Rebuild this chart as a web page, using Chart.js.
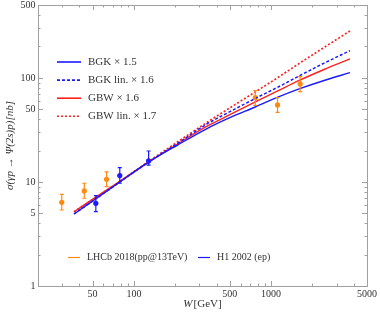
<!DOCTYPE html>
<html>
<head>
<meta charset="utf-8">
<script src="https://cdn.jsdelivr.net/npm/chart.js@4.4.1/dist/chart.umd.min.js"></script>
<style>
  html, body { margin: 0; padding: 0; background: #fff; }
  #wrap { width: 380px; height: 319px; }
</style>
</head>
<body>
<div id="wrap"><canvas id="chart" width="380" height="319"></canvas></div>
<script>
// model curves (W in GeV, sigma in nb)
const wCurve = [36.6, 68.5, 128, 208, 336, 505, 767, 1108, 1601, 2432, 3757];
const bgk = [4.92, 8.74, 15.5, 22.6, 32.2, 41.6, 52.4, 64.7, 78.1, 94.2, 111.9];
const bgkLin = [4.92, 8.74, 15.5, 23.4, 35.6, 47.5, 63.3, 80.7, 104.1, 138.1, 182.1];
const gbw = [5.17, 8.97, 15.5, 23.1, 33.9, 44.4, 58.6, 74.3, 94.2, 120.1, 151.6];
const gbwLin = [5.17, 8.88, 15.7, 24.2, 36.8, 51.8, 73.1, 99.6, 137.2, 195.5, 281.6];

// LHCb 2018 data
const wLHCb = [29.8, 43.5, 63.2, 767, 1114, 1628];
const sigLHCb = [6.37, 8.18, 10.6, 64.4, 54.8, 87.2];
const loLHCb = [5.37, 6.96, 9.0, 54.4, 46.6, 73.5];
const hiLHCb = [7.6, 9.7, 12.5, 75.2, 64.4, 102.5];

// H1 2002 data
const wH1 = [52.8, 78.9, 128];
const sigH1 = [6.23, 11.5, 15.9];
const loH1 = [5.17, 9.7, 14.5];
const hiH1 = [7.37, 13.7, 19.8];

// ticks
const xLabels = [50, 100, 500, 1000, 5000];
const yLabels = [1, 5, 10, 50, 100, 500];
const xMinor = [20, 30, 40, 60, 70, 80, 90, 200, 300, 400, 600, 700, 800, 900, 2000, 3000, 4000];
const yMinor = [2, 3, 4, 6, 7, 8, 9, 20, 30, 40, 60, 70, 80, 90, 200, 300, 400];

const BLUE = '#1a1aff';
const RED = '#ff2020';
const ORANGE = '#ff8a10';
const FRAME = '#a0a0a0';
const TEXT = '#333';
const SERIF = '"Liberation Serif", "DejaVu Serif", serif';
const DOTS = [2, 2];

function pts(xs, ys) {
    return xs.map((x, i) => ({ x: x, y: ys[i] }));
}

// error bars, frame ticks, labels, legends
const extras = {
    id: 'extras',
    afterDatasetsDraw(chart) {
        const ctx = chart.ctx;
        const xs = chart.scales.x, ys = chart.scales.y;
        const a = chart.chartArea;
        ctx.save();
        ctx.lineWidth = 1.2;
        [[wLHCb, loLHCb, hiLHCb, ORANGE], [wH1, loH1, hiH1, BLUE]].forEach(function (s) {
            ctx.strokeStyle = s[3];
            s[0].forEach(function (w, i) {
                const px = xs.getPixelForValue(w);
                const p1 = ys.getPixelForValue(s[1][i]);
                const p2 = ys.getPixelForValue(s[2][i]);
                ctx.beginPath();
                ctx.moveTo(px, p1); ctx.lineTo(px, p2);
                ctx.moveTo(px - 2, p1); ctx.lineTo(px + 2, p1);
                ctx.moveTo(px - 2, p2); ctx.lineTo(px + 2, p2);
                ctx.stroke();
            });
        });

        // frame + inward ticks
        ctx.strokeStyle = FRAME;
        ctx.lineWidth = 1;
        ctx.strokeRect(Math.round(a.left) + 0.5, Math.round(a.top) + 0.5,
            Math.round(a.right - a.left), Math.round(a.bottom - a.top));
        ctx.beginPath();
        const xtick = function (vals, len) {
            vals.forEach(function (v) {
                const px = Math.round(xs.getPixelForValue(v)) + 0.5;
                ctx.moveTo(px, a.bottom); ctx.lineTo(px, a.bottom - len);
                ctx.moveTo(px, a.top); ctx.lineTo(px, a.top + len);
            });
        };
        const ytick = function (vals, len) {
            vals.forEach(function (v) {
                const py = Math.round(ys.getPixelForValue(v)) + 0.5;
                ctx.moveTo(a.left, py); ctx.lineTo(a.left + len, py);
                ctx.moveTo(a.right, py); ctx.lineTo(a.right - len, py);
            });
        };
        xtick(xLabels, 5); xtick(xMinor, 2.5);
        ytick(yLabels, 5); ytick(yMinor, 2.5);
        ctx.stroke();

        // tick labels
        ctx.fillStyle = TEXT;
        ctx.font = '10px ' + SERIF;
        ctx.textBaseline = 'middle';
        ctx.textAlign = 'right';
        yLabels.forEach(function (v) {
            ctx.fillText(String(v), a.left - 2.5, ys.getPixelForValue(v) + 0.5);
        });
        ctx.textAlign = 'center';
        xLabels.forEach(function (v) {
            ctx.fillText(String(v), xs.getPixelForValue(v), a.bottom + 8);
        });

        // axis titles
        ctx.font = 'italic 11px ' + SERIF;
        const wW = ctx.measureText('W').width;
        ctx.font = '11px ' + SERIF;
        const gW = ctx.measureText('[GeV]').width;
        let tx = (a.left + a.right) / 2 - (wW + gW + 1) / 2;
        ctx.textAlign = 'left';
        ctx.font = 'italic 11px ' + SERIF;
        ctx.fillText('W', tx, a.bottom + 18);
        ctx.font = '11px ' + SERIF;
        ctx.fillText('[GeV]', tx + wW + 1, a.bottom + 18);

        ctx.save();
        ctx.translate(10, (a.top + a.bottom) / 2);
        ctx.rotate(-Math.PI / 2);
        ctx.textAlign = 'center';
        ctx.font = 'italic 11px ' + SERIF;
        ctx.fillText('\u03c3(\u03b3p \u2192 \u03a8(2s)p)[nb]', 0, 0);
        ctx.restore();

        // legends
        ctx.font = '11px ' + SERIF;
        ctx.textAlign = 'left';
        const leg = [
            ['BGK \u00d7 1.5', BLUE, []],
            ['BGK lin. \u00d7 1.6', BLUE, [3, 2]],
            ['GBW \u00d7 1.6', RED, []],
            ['GBW lin. \u00d7 1.7', RED, DOTS]
        ];
        leg.forEach(function (l, i) {
            const y = 62 + i * 18.1;
            ctx.strokeStyle = l[1];
            ctx.lineWidth = 1.6;
            ctx.setLineDash(l[2]);
            ctx.beginPath(); ctx.moveTo(57, y); ctx.lineTo(81, y); ctx.stroke();
            ctx.setLineDash([]);
            ctx.fillText(l[0], 88, y);
        });
        ctx.font = '10px ' + SERIF;
        const leg2 = [['LHCb 2018(pp@13TeV)', ORANGE, 68, 87], ['H1 2002 (ep)', BLUE, 198, 217]];
        leg2.forEach(function (l) {
            const y = 257.5;
            ctx.strokeStyle = l[1];
            ctx.lineWidth = 1.2;
            ctx.beginPath(); ctx.moveTo(l[2], y); ctx.lineTo(l[2] + 12, y); ctx.stroke();
            ctx.fillText(l[0], l[3], y);
        });
        ctx.restore();
    }
};

const line = function (data, color, dash, width) {
    return {
        type: 'line', data: pts(wCurve, data), borderColor: color, borderWidth: width,
        borderDash: dash, pointRadius: 0, cubicInterpolationMode: 'monotone', fill: false
    };
};

new Chart(document.getElementById('chart').getContext('2d'), {
    type: 'scatter',
    data: {
        datasets: [
            line(bgk, BLUE, [], 1.4),
            line(bgkLin, BLUE, [3, 2], 1.5),
            line(gbw, RED, [], 1.4),
            line(gbwLin, RED, DOTS, 1.7),
            { data: pts(wLHCb, sigLHCb), backgroundColor: ORANGE, borderColor: ORANGE, pointRadius: 2.6, borderWidth: 0 },
            { data: pts(wH1, sigH1), backgroundColor: BLUE, borderColor: BLUE, pointRadius: 2.6, borderWidth: 0 }
        ]
    },
    options: {
        responsive: false,
        animation: false,
        layout: { padding: { top: 5, right: 13, left: 0, bottom: 0 } },
        plugins: { legend: { display: false }, tooltip: { enabled: false } },
        scales: {
            x: {
                type: 'logarithmic', min: 20, max: 5000,
                afterFit: function (s) { s.height = 33; },
                grid: { display: false },
                border: { display: false },
                ticks: { display: false }
            },
            y: {
                type: 'logarithmic', min: 1, max: 500,
                afterFit: function (s) { s.width = 38; },
                grid: { display: false },
                border: { display: false },
                ticks: { display: false }
            }
        }
    },
    plugins: [extras]
});
</script>
</body>
</html>
